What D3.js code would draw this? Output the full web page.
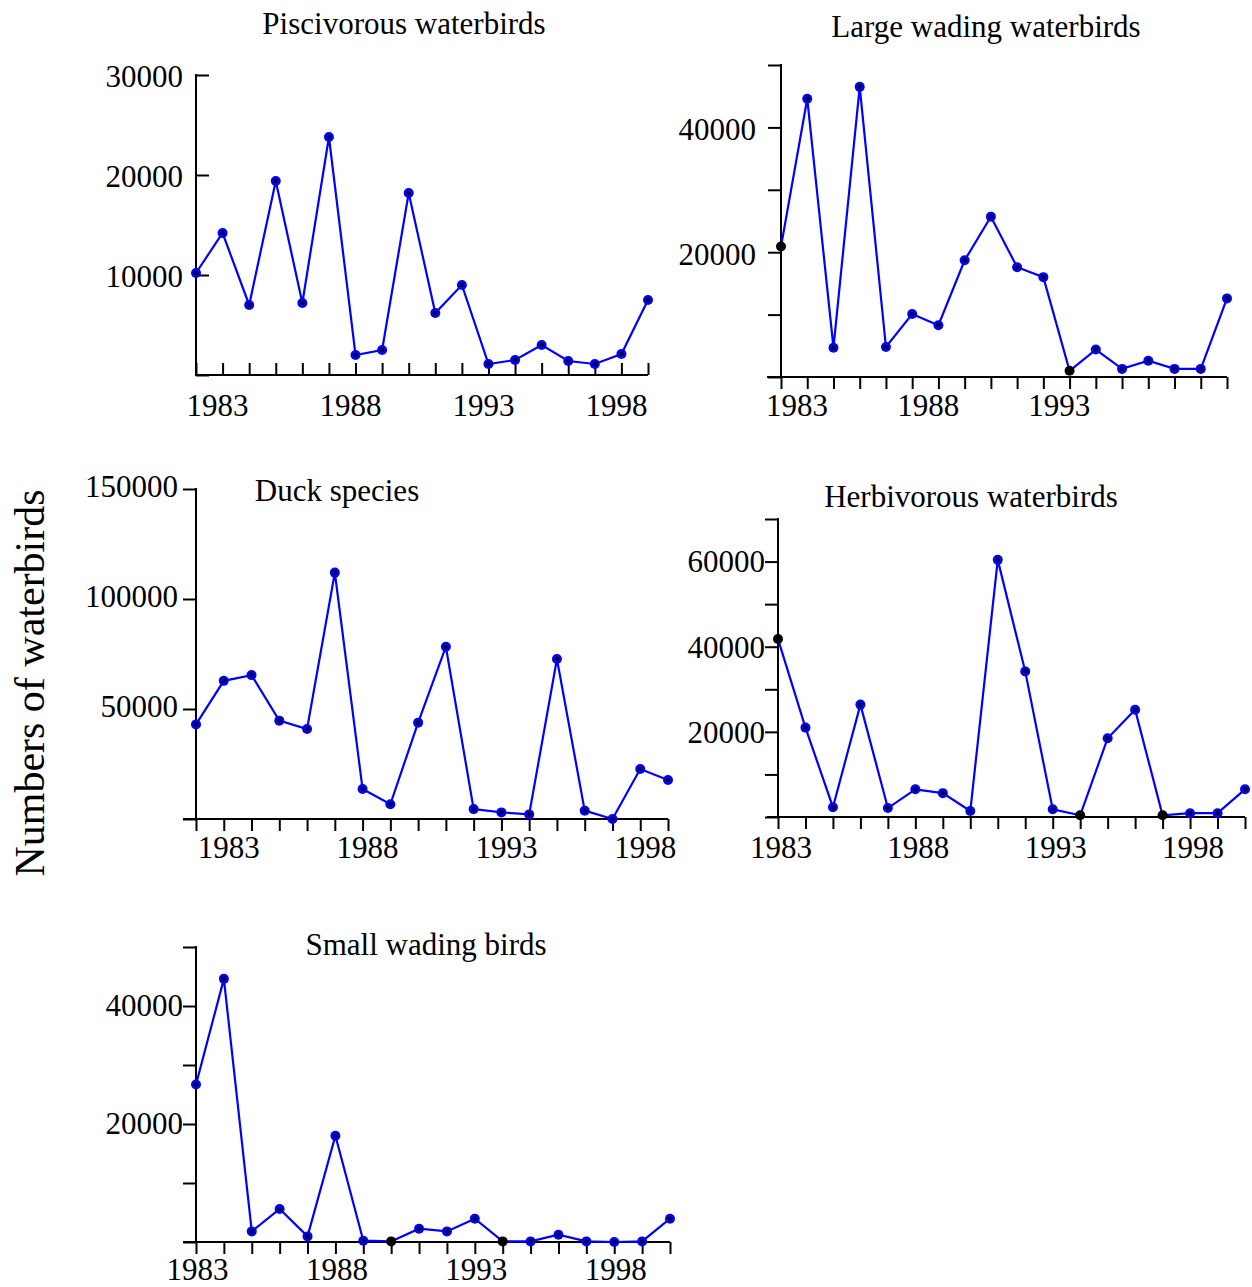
<!DOCTYPE html>
<html>
<head>
<style>
  body { margin: 0; background: #fff; }
  svg text { font-family: "Liberation Serif", "Times New Roman", serif; fill: #000; }
  .axis line { stroke: #000; stroke-width: 2px; }
  .axis path { display: none; }
</style>
</head>
<body>
<svg id="chart" width="1252" height="1287"></svg>
<script src="https://cdnjs.cloudflare.com/ajax/libs/d3/7.8.5/d3.min.js"></script>
<script>
// survey years (some panels start in 1982, others in 1983)
const years82 = [1982, 1983, 1984, 1985, 1986, 1987, 1988, 1989, 1990, 1991, 1992, 1993, 1994, 1995, 1996, 1997, 1998, 1999];
const years83 = [1983, 1984, 1985, 1986, 1987, 1988, 1989, 1990, 1991, 1992, 1993, 1994, 1995, 1996, 1997, 1998, 1999, 2000];
const yearLabels = [1983, 1988, 1993, 1998];

// counts
const piscivorous = [10200, 14200, 7000, 19400, 7200, 23800, 2000, 2500, 18200, 6200, 9000, 1100, 1500, 3000, 1400, 1100, 2100, 7500];
const largeWading = [20900, 44600, 4700, 46500, 4800, 10100, 8300, 18700, 25700, 17600, 16000, 1000, 4400, 1300, 2600, 1300, 1300, 12600];
const ducks = [43000, 62800, 65400, 44700, 40900, 112000, 13600, 6700, 43800, 78300, 4500, 3000, 2100, 72700, 3800, 0, 22700, 17700];
const herbivorous = [41800, 21000, 2300, 26400, 2100, 6500, 5600, 1400, 60400, 34200, 1800, 400, 18500, 25200, 400, 900, 900, 6500];
const smallWading = [26700, 44600, 1800, 5600, 950, 18000, 220, 100, 2250, 1800, 3950, 100, 100, 1240, 100, 0, 100, 3950];

// points drawn plain black in the original
const blackPisc = [];
const blackLarge = [0, 11];
const blackDuck = [];
const blackHerb = [0, 11, 14];
const blackSmall = [7, 11];

const panels = [
  { title: "Piscivorous waterbirds", tx: 404, ty: 34, values: piscivorous, years: years82, black: blackPisc,
    yMax: 30000, yStep: 10000, yLab: [10000, 20000, 30000], ldy: 1,
    left: 196, right: 648, top: 75, bottom: 375, inward: true, xFrom: 196,
    labels: yearLabels, ldx: -5, lby: 41, labR: 183 },
  { title: "Large wading waterbirds", tx: 986, ty: 37, values: largeWading, years: years83, black: blackLarge,
    yMax: 50000, yStep: 10000, yLab: [20000, 40000], ldy: 2,
    left: 781, right: 1227, top: 65, bottom: 377, inward: false, xFrom: 767,
    labels: [1983, 1988, 1993], ldx: 16, lby: 39, labR: 756 },
  { title: "Duck species", tx: 337, ty: 501, values: ducks, years: years82, black: blackDuck,
    yMax: 150000, yStep: 50000, yLab: [50000, 100000, 150000], ldy: -3,
    left: 196, right: 668, top: 489, bottom: 819, inward: false, xFrom: 183,
    labels: yearLabels, ldx: 5, lby: 39, labR: 178 },
  { title: "Herbivorous waterbirds", tx: 971, ty: 507, values: herbivorous, years: years83, black: blackHerb,
    yMax: 70000, yStep: 10000, yLab: [20000, 40000, 60000], ldy: 0,
    left: 778, right: 1245, top: 519, bottom: 817, inward: false, xFrom: 767,
    labels: yearLabels, ldx: 3, lby: 41, labR: 765 },
  { title: "Small wading birds", tx: 426, ty: 955, values: smallWading, years: years83, black: blackSmall,
    yMax: 50000, yStep: 10000, yLab: [20000, 40000], ldy: -1,
    left: 196, right: 670, top: 947, bottom: 1242, inward: false, xFrom: 183,
    labels: yearLabels, ldx: 1.5, lby: 38, labR: 183 }
];

const svg = d3.select("#chart");
const fontSize = 31;

panels.forEach(p => {
  const g = svg.append("g");
  const x = d3.scaleLinear().domain([p.years[0], p.years[p.years.length - 1]]).range([p.left, p.right]);
  const y = d3.scaleLinear().domain([0, p.yMax]).range([p.bottom, p.top]);
  const tickLen = 12;

  // x axis: ticks at every year
  const xAxis = d3.axisBottom(x).tickValues(p.years).tickFormat("").tickSizeOuter(0)
    .tickSize(p.inward ? -tickLen : tickLen);
  g.append("g").attr("class", "axis")
    .attr("transform", `translate(0,${p.bottom})`).call(xAxis);
  g.append("line").attr("x1", p.xFrom).attr("x2", p.right)
    .attr("y1", p.bottom).attr("y2", p.bottom)
    .attr("stroke", "#000").attr("stroke-width", 2);

  // y axis
  const yTicks = d3.range(0, p.yMax + 1, p.yStep);
  const yAxis = d3.axisLeft(y).tickValues(yTicks).tickFormat("").tickSizeOuter(0)
    .tickSize(p.inward ? -13 : 13);
  g.append("g").attr("class", "axis")
    .attr("transform", `translate(${p.left},0)`).call(yAxis);
  g.append("line").attr("x1", p.left).attr("x2", p.left)
    .attr("y1", p.top - 1).attr("y2", p.bottom + 1)
    .attr("stroke", "#000").attr("stroke-width", 2);

  // y tick labels
  g.selectAll(".ylab").data(p.yLab).enter().append("text")
    .attr("x", p.labR)
    .attr("y", d => y(d) + p.ldy)
    .attr("dy", "0.35em")
    .attr("text-anchor", "end")
    .style("font-size", fontSize + "px")
    .text(d => d);

  // x tick labels
  g.selectAll(".xlab").data(p.labels).enter().append("text")
    .attr("x", d => x(d) + p.ldx)
    .attr("y", p.bottom + p.lby)
    .attr("text-anchor", "middle")
    .style("font-size", fontSize + "px")
    .text(d => d);

  // title
  g.append("text").attr("x", p.tx).attr("y", p.ty)
    .attr("text-anchor", "middle")
    .style("font-size", fontSize + "px")
    .text(p.title);

  const pts = p.values.map((v, i) => ({ yr: p.years[i], v: v, black: p.black.includes(i) }));

  g.append("path").datum(pts)
    .attr("fill", "none")
    .attr("stroke", "#0000ff")
    .attr("stroke-width", 2.2)
    .attr("d", d3.line().x(d => x(d.yr)).y(d => y(d.v)));

  g.selectAll(".dot").data(pts).enter().append("circle")
    .attr("cx", d => x(d.yr)).attr("cy", d => y(d.v))
    .attr("r", 5)
    .attr("fill", d => d.black ? "#000" : "#0000ff");
  g.selectAll(".dotc").data(pts.filter(d => !d.black)).enter().append("circle")
    .attr("cx", d => x(d.yr)).attr("cy", d => y(d.v))
    .attr("r", 2.3)
    .attr("fill", "#000020");
});

// shared y axis title
svg.append("text")
  .attr("transform", "translate(44,683) rotate(-90)")
  .attr("text-anchor", "middle")
  .style("font-size", "42px")
  .text("Numbers of waterbirds");
</script>
</body>
</html>
